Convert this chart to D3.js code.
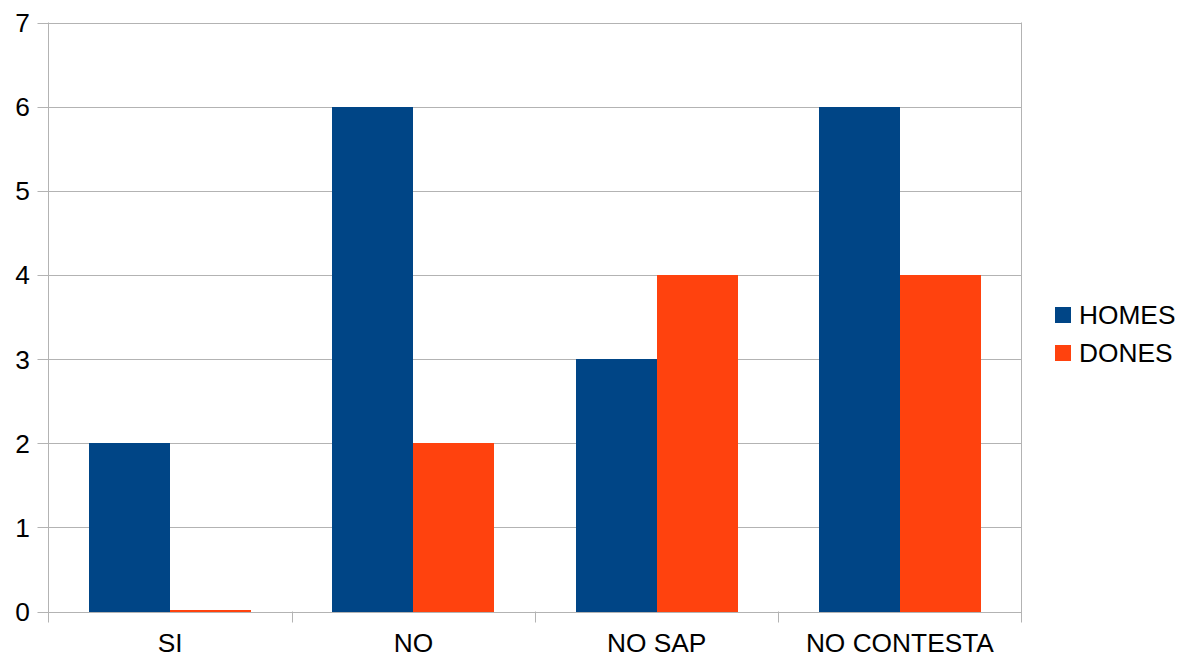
<!DOCTYPE html>
<html>
<head>
<meta charset="utf-8">
<script src="https://cdn.jsdelivr.net/npm/d3@7"></script>
<style>
  html, body { margin: 0; padding: 0; background: #fff; }
  svg { display: block; font-family: "Liberation Sans", Arial, sans-serif; }
</style>
</head>
<body>
<svg id="chart" width="1180" height="657"></svg>
<script>
// Survey answers, counted per group
const categories = ["SI", "NO", "NO SAP", "NO CONTESTA"];
const seriesNames = ["HOMES", "DONES"];
const homes = [2, 6, 3, 6];
const dones = [0, 2, 4, 4];
const yTicks = [0, 1, 2, 3, 4, 5, 6, 7];
const colors = ["#004586", "#ff420e"];

const svg = d3.select("#chart");
const margin = { left: 48.5, right: 1021.5, top: 22.5, bottom: 611.5 };
const fontSize = 26.3;

const x = d3.scaleBand().domain(categories).range([margin.left, margin.right]).padding(0);
const inner = d3.scaleBand().domain(seriesNames).range([0, x.bandwidth()])
  .paddingInner(0).paddingOuter(0.5);
const y = d3.scaleLinear().domain([0, 7]).range([margin.bottom, margin.top]);

const gridColor = "#b3b3b3";

// horizontal grid lines with short ticks to the left of the axis
svg.append("g").selectAll("line").data(yTicks).join("line")
  .attr("x1", margin.left - 11).attr("x2", margin.right)
  .attr("y1", d => Math.round(y(d)) + 0.5).attr("y2", d => Math.round(y(d)) + 0.5)
  .attr("stroke", gridColor).attr("stroke-width", 1);

// vertical frame: y axis and right edge
svg.append("line").attr("x1", margin.left).attr("x2", margin.left)
  .attr("y1", margin.top).attr("y2", margin.bottom + 11)
  .attr("stroke", gridColor);
svg.append("line").attr("x1", margin.right).attr("x2", margin.right)
  .attr("y1", margin.top).attr("y2", margin.bottom + 11)
  .attr("stroke", gridColor);

// category separators below the baseline
const bounds = categories.map(c => x(c)).slice(1);
svg.append("g").selectAll("line").data(bounds).join("line")
  .attr("x1", d => Math.round(d) + 0.5).attr("x2", d => Math.round(d) + 0.5)
  .attr("y1", margin.bottom).attr("y2", margin.bottom + 11)
  .attr("stroke", gridColor);

// y tick labels
svg.append("g").selectAll("text").data(yTicks).join("text")
  .attr("x", 30).attr("y", d => y(d))
  .attr("dy", "0.36em").attr("text-anchor", "end")
  .attr("font-size", fontSize).attr("fill", "#000")
  .text(d => d);

// bars (a zero value still shows as a thin line on the baseline)
const rows = categories.map((c, i) => ({ cat: c, values: [homes[i], dones[i]] }));
const groups = svg.append("g").selectAll("g").data(rows).join("g")
  .attr("transform", d => `translate(${x(d.cat)},0)`);
groups.selectAll("rect")
  .data(d => d.values.map((v, j) => ({ name: seriesNames[j], value: v, color: colors[j] })))
  .join("rect")
  .attr("shape-rendering", "crispEdges")
  .attr("x", d => inner(d.name))
  .attr("width", inner.bandwidth())
  .attr("y", d => d.value === 0 ? Math.floor(y(0)) - 1 : y(d.value))
  .attr("height", d => d.value === 0 ? 1.5 : y(0) - y(d.value))
  .attr("fill", d => d.color);

// category labels
svg.append("g").selectAll("text").data(categories).join("text")
  .attr("x", d => x(d) + x.bandwidth() / 2).attr("y", 652)
  .attr("text-anchor", "middle").attr("font-size", fontSize).attr("fill", "#000")
  .text(d => d);

// legend
const legend = svg.append("g").selectAll("g").data(seriesNames).join("g")
  .attr("transform", (d, i) => `translate(1055,${307 + i * 38})`);
legend.append("rect").attr("width", 16).attr("height", 16)
  .attr("fill", (d, i) => colors[i]);
legend.append("text").attr("x", 24).attr("y", 8).attr("dy", "0.36em")
  .attr("font-size", fontSize).attr("fill", "#000").text(d => d);
</script>
</body>
</html>
